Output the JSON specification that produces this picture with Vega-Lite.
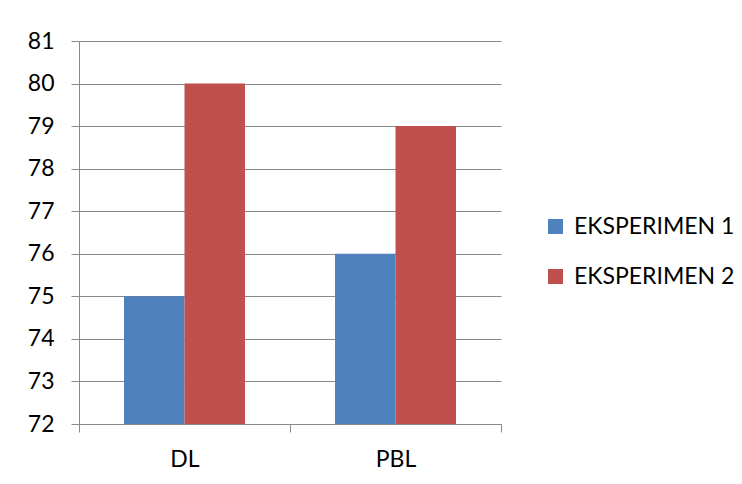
{
  "$schema": "https://vega.github.io/schema/vega-lite/v6.json",
  "autosize": "none",
  "width": 422,
  "height": 383,
  "padding": {"left": 79, "top": 41, "right": 241, "bottom": 60},
  "background": "white",
  "config": {
    "view": {"stroke": null},
    "font": "Lato"
  },
  "data": {
    "values": [
      {"kelompok": "DL", "seri": "EKSPERIMEN 1", "nilai": 75},
      {"kelompok": "DL", "seri": "EKSPERIMEN 2", "nilai": 80},
      {"kelompok": "PBL", "seri": "EKSPERIMEN 1", "nilai": 76},
      {"kelompok": "PBL", "seri": "EKSPERIMEN 2", "nilai": 79}
    ]
  },
  "mark": {"type": "bar", "clip": true},
  "encoding": {
    "x": {
      "field": "kelompok",
      "type": "nominal",
      "sort": ["DL", "PBL"],
      "scale": {"paddingInner": 0, "paddingOuter": 0},
      "axis": {
        "title": null,
        "labelAngle": 0,
        "labelFont": "Lato",
        "labelFontSize": 23,
        "labelColor": "#000000",
        "labelPadding": 16,
        "tickBand": "extent",
        "tickSize": 8,
        "tickColor": "#898989",
        "domainColor": "#898989",
        "grid": false
      }
    },
    "xOffset": {
      "field": "seri",
      "type": "nominal",
      "scale": {"paddingInner": 0, "paddingOuter": 0.744}
    },
    "y": {
      "field": "nilai",
      "type": "quantitative",
      "scale": {"domain": [72, 81], "zero": false, "nice": false},
      "axis": {
        "title": null,
        "values": [72, 73, 74, 75, 76, 77, 78, 79, 80, 81],
        "labelFont": "Lato",
        "labelFontSize": 23,
        "labelColor": "#000000",
        "labelPadding": 17,
        "tickSize": 8,
        "tickColor": "#898989",
        "domainColor": "#898989",
        "grid": true,
        "gridColor": "#898989",
        "gridOpacity": 1
      }
    },
    "y2": {"datum": 72},
    "color": {
      "field": "seri",
      "type": "nominal",
      "scale": {"domain": ["EKSPERIMEN 1", "EKSPERIMEN 2"], "range": ["#4F81BD", "#C0504D"]},
      "legend": {
        "title": null,
        "orient": "none",
        "legendX": 465,
        "legendY": 174,
        "padding": 0,
        "symbolType": "square",
        "symbolSize": 225,
        "symbolStrokeWidth": 0,
        "symbolOpacity": 1,
        "labelFont": "Lato",
        "labelFontSize": 23,
        "labelColor": "#000000",
        "labelOffset": 7,
        "rowPadding": 26,
        "labelLimit": 300
      }
    }
  }
}
